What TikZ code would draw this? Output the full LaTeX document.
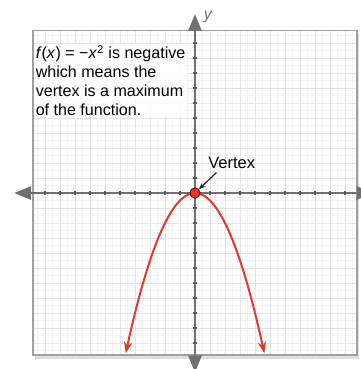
\documentclass[tikz,border=0pt]{standalone}
\usepackage{fontspec}
\setmainfont{Liberation Sans}
\usepackage{tikz}
\usetikzlibrary{arrows.meta, positioning}
\definecolor{curvered}{HTML}{E2382B}
\definecolor{axisgray}{HTML}{707070}

\begin{document}
\begin{tikzpicture}[
    x=0.4cm, y=0.4cm,
    axis/.style={axisgray, line width=1.1pt, {Triangle[width=0.36cm, length=0.45cm]}-{Triangle[width=0.36cm, length=0.45cm]}},
    tick/.style={axisgray!80!black, line width=1pt},
    curve/.style={curvered, line width=1.5pt, {Stealth[length=0.3cm, width=0.22cm]}-{Stealth[length=0.3cm, width=0.22cm]}},
    note/.style={fill=white, fill opacity=0.85, text opacity=1, align=left, inner sep=1pt, font=\fontsize{12.2}{14.4}\selectfont},
    ptr/.style={-{Stealth[length=5pt, width=4pt]}, line width=0.9pt, black!85}
]
    \useasboundingbox (-13,-11.73) rectangle (11,12.87);

    % grid and frame
    \fill[gray!25] (-10.65,-11.05) rectangle (10.95,10.6);
    \fill[white] (-10.8,-10.8) rectangle (10.8,10.85);
    \draw[gray!9, line width=0.4pt] (-10.8,-10.8) grid[step=0.5] (10.8,10.85);
    \draw[gray!20, line width=0.5pt] (-10.8,-10.8) grid[step=1] (10.8,10.85);
    \draw[gray!75, line width=1.2pt] (-10.8,-10.8) rectangle (10.8,10.85);

    % axes
    \draw[axis] (-12.05,0) -- (11.9,0);
    \draw[axis] (0,-11.95) -- (0,11.93);
    \foreach \i in {-10,...,-1,1,2,...,10} {
        \draw[tick] (\i,-0.15) -- (\i,0.15);
        \draw[tick] (-0.15,\i) -- (0.15,\i);
    }
    \node[axisgray, font=\itshape\large] (ylab) at (0.85,11.75) {y};

    % text
    \node[note, anchor=north west] (msg) at (-10.72,9.95)
        {\textit{f}(\textit{x}) = −\textit{x}\textsuperscript{2} is negative\\
         which means the\\
         vertex is a maximum\\
         of the function.};

    % curve and vertex
    \draw[curve] plot[domain=-4.62:4.62, samples=80] (\x,{-0.5*\x*\x});
    \node[circle, fill=curvered, draw=red!50!black, line width=0.8pt, minimum size=0.27cm, inner sep=0pt] (vtx) at (0,0) {};
    \node[font=\fontsize{12.5}{14}\selectfont, inner sep=1pt] (vlabel) at (2.45,2.0) {Vertex};
    \draw[ptr, shorten <=1pt] ([xshift=8pt, yshift=-1pt]vlabel.south west) -- (vtx);
\end{tikzpicture}
\end{document}
